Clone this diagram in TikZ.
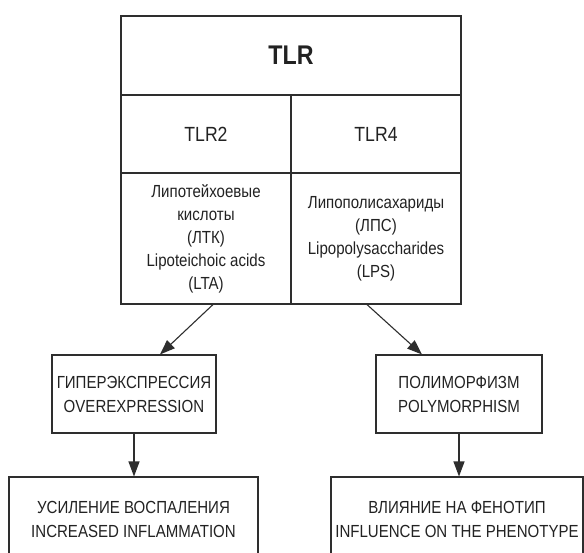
\documentclass[tikz,border=0pt]{standalone}
\usepackage{fontspec}
\setmainfont[FakeStretch=0.86]{Liberation Sans}
\usetikzlibrary{arrows.meta}
\definecolor{linec}{HTML}{2E2E2E}
\definecolor{textc}{HTML}{222222}
\tikzset{
  cell/.style={draw=linec, line width=1.1pt, inner sep=0pt, align=center, text=textc},
  arr/.style={draw=linec, line width=1.1pt, -{Triangle[length=15pt,width=11pt]}},
  small/.style={font=\fontsize{17.5}{23}\selectfont},
  caps/.style={font=\fontsize{17.5}{24}\selectfont},
}
\begin{document}
\begin{tikzpicture}[x=1pt,y=-1pt]
\clip (0,0) rectangle (584,552);
\fill[white] (0,0) rectangle (584,552);
% top table
\node[cell, minimum width=340pt, minimum height=79pt, font=\fontsize{27}{30}\selectfont\bfseries] (tlr) at (291,55.5) {TLR};
\node[cell, minimum width=170pt, minimum height=78pt, font=\fontsize{20.5}{24}\selectfont] (tlr2) at (206,134) {TLR2};
\node[cell, minimum width=170pt, minimum height=78pt, font=\fontsize{20.5}{24}\selectfont] (tlr4) at (376,134) {TLR4};
\node[cell, small, minimum width=170pt, minimum height=131pt] (lta) at (206,238.5) {Липотейхоевые\\кислоты\\(ЛТК)\\Lipoteichoic acids\\(LTA)};
\node[cell, small, minimum width=170pt, minimum height=131pt] (lps) at (376,238.5) {Липополисахариды\\(ЛПС)\\Lipopolysaccharides\\(LPS)};
% middle boxes
\node[cell, caps, minimum width=164pt, minimum height=78pt] (over) at (134,394) {ГИПЕРЭКСПРЕССИЯ\\OVEREXPRESSION};
\node[cell, caps, minimum width=166pt, minimum height=78pt] (poly) at (459,394) {ПОЛИМОРФИЗМ\\POLYMORPHISM};
% bottom boxes
\node[cell, caps, minimum width=249pt, minimum height=84pt] (infl) at (133.5,519) {УСИЛЕНИЕ ВОСПАЛЕНИЯ\\INCREASED INFLAMMATION};
\node[cell, caps, minimum width=252pt, minimum height=84pt] (pheno) at (457,519) {ВЛИЯНИЕ НА ФЕНОТИП\\INFLUENCE ON THE PHENOTYPE};
% arrows
\draw[arr] ([xshift=7pt]lta.south) -- ([xshift=26pt]over.north);
\draw[arr] ([xshift=-9pt]lps.south) -- ([xshift=-37pt]poly.north);
\draw[arr] (over.south) -- (over.south |- infl.north);
\draw[arr] (poly.south) -- (poly.south |- pheno.north);
\end{tikzpicture}
\end{document}
